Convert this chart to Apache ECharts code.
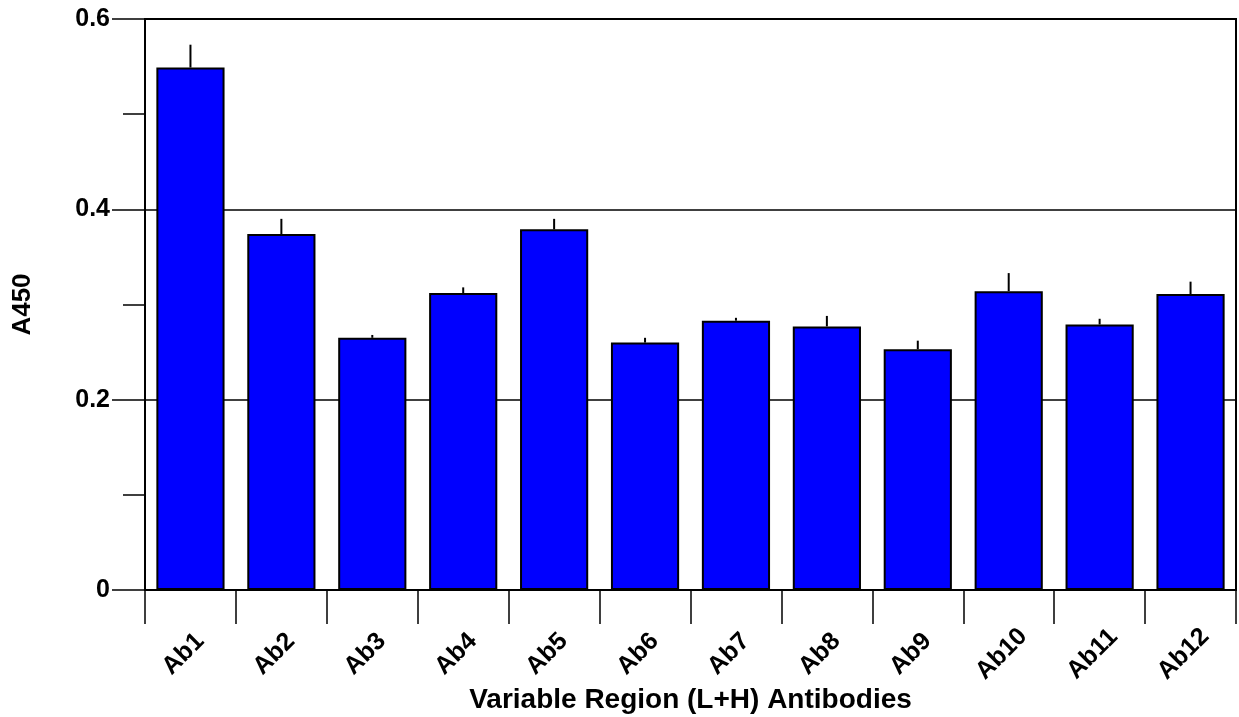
<!DOCTYPE html>
<html>
<head>
<meta charset="utf-8">
<script src="https://cdn.jsdelivr.net/npm/echarts@6/dist/echarts.min.js"></script>
<style>html,body{margin:0;padding:0;background:#fff;}#c{width:1239px;height:717px;}</style>
</head>
<body>
<div id="c"></div>
<script>
const categories = ['Ab1','Ab2','Ab3','Ab4','Ab5','Ab6','Ab7','Ab8','Ab9','Ab10','Ab11','Ab12'];
const values = [0.549, 0.374, 0.265, 0.312, 0.379, 0.260, 0.283, 0.277, 0.253, 0.314, 0.279, 0.311];
const errors = [0.024, 0.016, 0.003, 0.006, 0.011, 0.005, 0.003, 0.011, 0.009, 0.019, 0.006, 0.013];
const yTicks = [0, 0.2, 0.4, 0.6];
const xTitle = 'Variable Region (L+H) Antibodies';
const yTitle = 'A450';

const font = '"Liberation Sans", Arial, sans-serif';
const chart = echarts.init(document.getElementById('c'), null, {renderer: 'canvas'});
const errData = values.map((v, i) => [i, v, errors[i]]);

chart.setOption({
  animation: false,
  backgroundColor: '#fff',
  grid: {left: 145, right: 3, top: 19, bottom: 127, containLabel: false, outerBoundsMode: 'none',
    show: true, borderColor: '#000', borderWidth: 2, backgroundColor: 'transparent'},
  xAxis: {
    type: 'category',
    data: categories,
    name: xTitle,
    nameLocation: 'middle',
    nameGap: 110,
    nameMoveOverlap: false,
    nameTextStyle: {fontFamily: font, fontWeight: 'bold', fontSize: 28, color: '#000', verticalAlign: 'middle'},
    axisLine: {lineStyle: {color: '#000', width: 2}},
    axisTick: {show: true, length: 34, lineStyle: {color: '#000', width: 1.5}},
    axisLabel: {rotate: 45, interval: 0, margin: 57, align: 'center', verticalAlign: 'middle', padding: [0, 20, 0, 0],
      fontFamily: font, fontWeight: 'bold', fontSize: 25, color: '#000'},
    splitLine: {show: false}
  },
  yAxis: {
    type: 'value',
    min: 0, max: 0.6, interval: 0.2,
    name: yTitle,
    nameLocation: 'middle',
    nameGap: 122,
    nameRotate: 90,
    nameMoveOverlap: false,
    nameTextStyle: {fontFamily: font, fontWeight: 'bold', fontSize: 26, color: '#000', verticalAlign: 'middle'},
    axisLine: {show: true, lineStyle: {color: '#000', width: 1.5}},
    axisTick: {show: true, length: 33, lineStyle: {color: '#000', width: 1.5}},
    minorTick: {show: true, splitNumber: 2, length: 22, lineStyle: {color: '#000', width: 1.5}},
    axisLabel: {margin: 35, fontFamily: font, fontWeight: 'bold', fontSize: 25, color: '#000',
      formatter: v => { const t = yTicks.find(x => Math.abs(x - v) < 1e-9); return t === 0 ? '0' : String(t); }},
    splitLine: {show: true, lineStyle: {color: '#000', width: 1.5}}
  },
  series: [
    {
      type: 'bar',
      data: values,
      barWidth: '75%',
      itemStyle: {color: '#0000ff', borderColor: '#000', borderWidth: 2},
      z: 2
    },
    {
      type: 'custom',
      data: errData,
      encode: {x: 0, y: 1},
      z: 3,
      renderItem: (params, api) => {
        const i = api.value(0), v = api.value(1), e = api.value(2);
        const p0 = api.coord([i, v]);
        const p1 = api.coord([i, v + e]);
        return {type: 'line', shape: {x1: p0[0], y1: p0[1], x2: p1[0], y2: p1[1]},
          style: {stroke: '#000', lineWidth: 2}};
      }
    }
  ]
});
</script>
</body>
</html>
